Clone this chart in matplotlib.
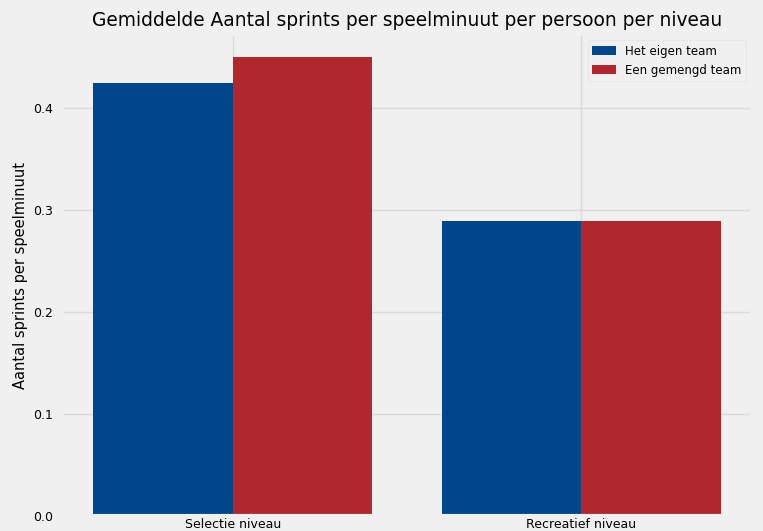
import numpy as np
import matplotlib
matplotlib.use('Agg')
import matplotlib.pyplot as plt

plt.style.use('fivethirtyeight')

niveaus = ['Selectie niveau', 'Recreatief niveau']
eigen_team = [0.4245, 0.289]
gemengd_team = [0.450, 0.289]

fig = plt.figure(figsize=(7.63, 5.31), dpi=100)
fig.patch.set_facecolor('#f0f0f0')
ax = fig.add_axes([0.081, 0.028, 0.905, 0.908])
ax.set_facecolor('#f0f0f0')

x = np.arange(len(niveaus))
width = 0.4
ax.bar(x - width / 2, eigen_team, width, color='#00468b', label='Het eigen team')
ax.bar(x + width / 2, gemengd_team, width, color='#b0282e', label='Een gemengd team')

ax.set_xticks(x)
ax.set_xticklabels(niveaus, fontsize=9)
ax.set_yticks([0.0, 0.1, 0.2, 0.3, 0.4])
ax.tick_params(axis='y', labelsize=9, pad=6)
ax.tick_params(axis='x', pad=1)
ax.set_ylabel('Aantal sprints per speelminuut', fontsize=10.5)
ax.set_title('Gemiddelde Aantal sprints per speelminuut per persoon per niveau', fontsize=13.4)
ax.grid(True, color='#dadada', linewidth=1)
ax.set_axisbelow(True)
leg = ax.legend(loc='upper right', fontsize=8.5, frameon=True)
leg.get_frame().set_facecolor('#f0f0f0')
leg.get_frame().set_edgecolor('#e0e0e0')

fig.savefig('out.png', dpi=100, facecolor=fig.get_facecolor())
